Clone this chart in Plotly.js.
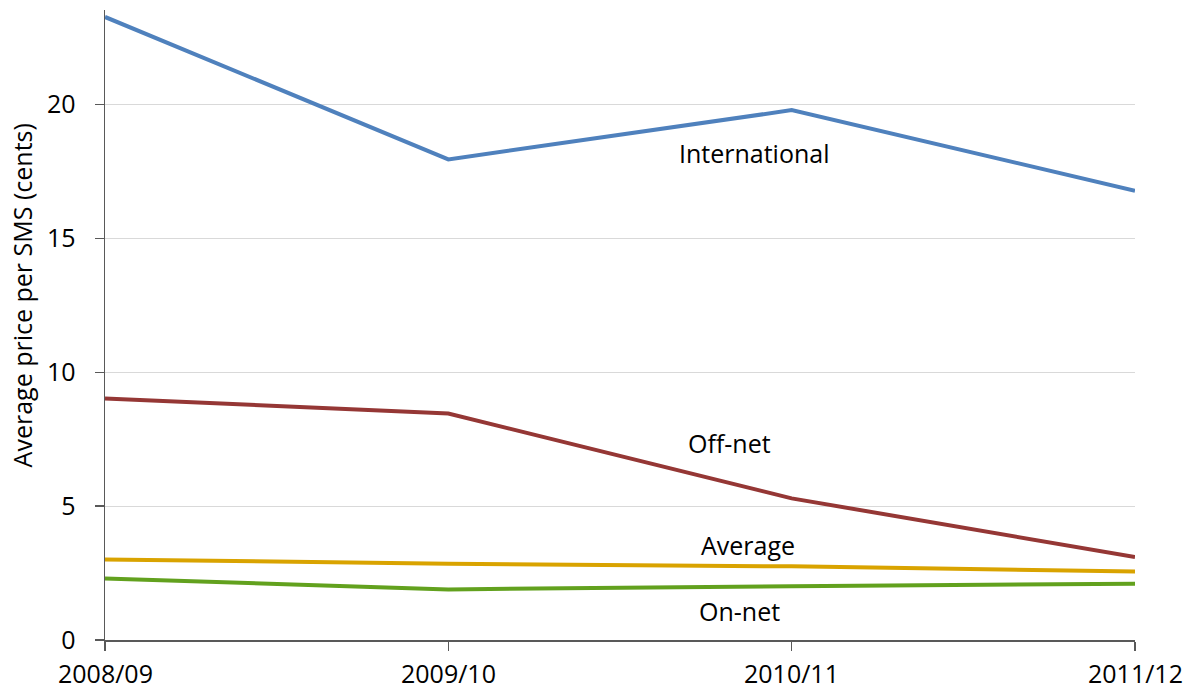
<!DOCTYPE html>
<html>
<head>
<meta charset="utf-8">
<script src="https://cdn.plot.ly/plotly-3.0.1.min.js"></script>
<style>html,body{margin:0;padding:0;background:#fff;}#chart{width:1195px;height:693px;}</style>
</head>
<body>
<div id="chart"></div>
<script>
const categories = ["2008/09", "2009/10", "2010/11", "2011/12"];
const international = [23.27, 17.95, 19.79, 16.78];
const offNet = [9.02, 8.46, 5.29, 3.10];
const average = [3.01, 2.85, 2.75, 2.56];
const onNet = [2.30, 1.89, 2.01, 2.10];
const seriesNames = ["International", "Off-net", "Average", "On-net"];
const yTicks = [0, 5, 10, 15, 20];
const yTitle = "Average price per SMS (cents)";

const FONT = "Open Sans, Noto Sans, sans-serif";
const colors = ["#4F81BD", "#953735", "#D9A300", "#62A11E"];
const values = [international, offNet, average, onNet];

const traces = values.map((v, i) => ({
  x: categories, y: v, type: "scatter", mode: "lines", name: seriesNames[i],
  line: {color: colors[i], width: 4}, hoverinfo: "skip"
}));

const labelPos = [[1.893, 18.19], [1.818, 7.35], [1.873, 3.53], [1.847, 1.10]];
const annotations = seriesNames.map((n, i) => ({
  text: n, x: labelPos[i][0], y: labelPos[i][1], xref: "x", yref: "y",
  showarrow: false, font: {family: FONT, size: 25, color: "#000"}
}));
categories.forEach((c, i) => {
  annotations.push({
    text: c, x: i, y: 0, xref: "x", yref: "paper", yanchor: "top",
    xanchor: "center", yshift: -15, borderpad: 0,
    showarrow: false, font: {family: FONT, size: 25, color: "#000"}
  });
});
annotations.push({
  text: yTitle, x: 0, y: 0.547, xref: "paper", yref: "paper",
  xanchor: "center", yanchor: "middle", xshift: -83, textangle: -90,
  showarrow: false, font: {family: FONT, size: 25, color: "#000"}
});

const layout = {
  width: 1195, height: 693,
  margin: {l: 105, r: 60, t: 10, b: 53},
  paper_bgcolor: "#fff", plot_bgcolor: "#fff",
  showlegend: false,
  font: {family: FONT, color: "#000"},
  xaxis: {
    type: "category", range: [0, 3], showgrid: false, zeroline: false,
    showline: true, linecolor: "#595959", linewidth: 1.5,
    ticks: "outside", ticklen: 9, tickcolor: "#595959", tickwidth: 1.5,
    showticklabels: false
  },
  yaxis: {
    range: [0, 23.53], tickvals: yTicks, ticktext: yTicks.map(String),
    showgrid: true, gridcolor: "#D9D9D9", gridwidth: 1, zeroline: false,
    showline: true, linecolor: "#595959", linewidth: 1.5,
    ticks: "outside", ticklen: 9, tickcolor: "#595959", tickwidth: 1.5,
    ticklabelstandoff: 14,
    tickfont: {family: FONT, size: 25, color: "#000"}
  },
  annotations: annotations
};

Plotly.newPlot("chart", traces, layout, {displayModeBar: false, staticPlot: true});
</script>
</body>
</html>
